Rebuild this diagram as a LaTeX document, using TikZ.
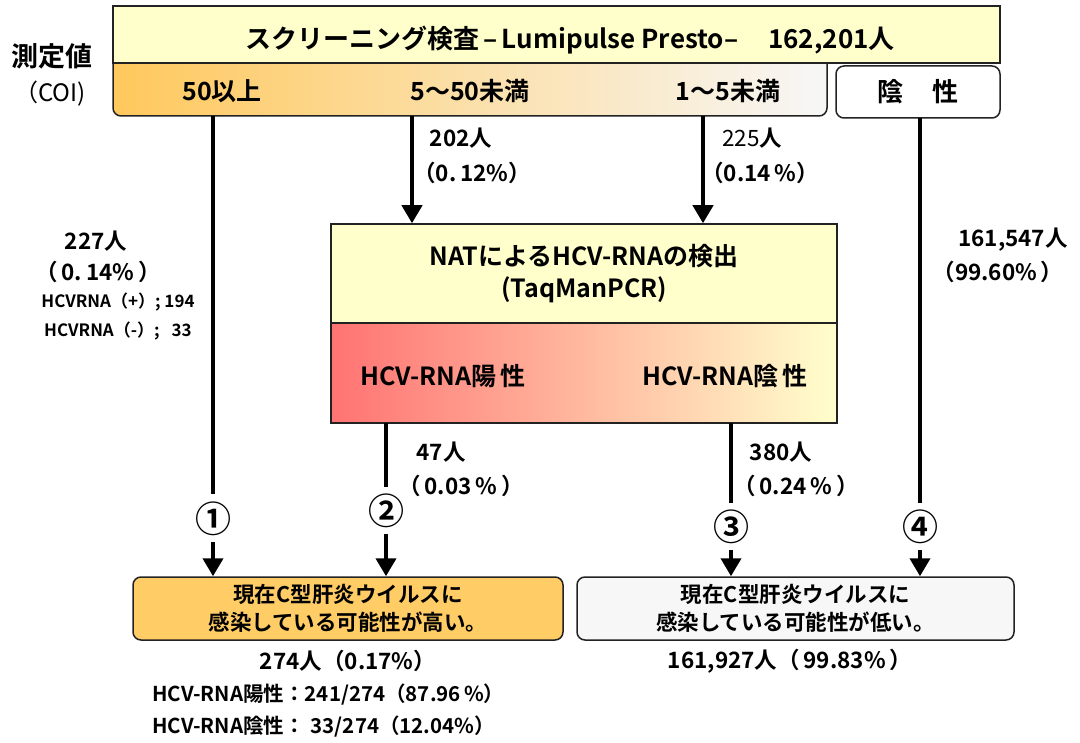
\documentclass[tikz,border=0pt]{standalone}
\usepackage{fontspec}
\setmainfont{Noto Sans CJK JP}[BoldFont={Noto Sans CJK JP Bold}]
\usetikzlibrary{arrows.meta}
\definecolor{ltyel}{HTML}{FFFFCC}
\definecolor{orng}{HTML}{FFC85C}
\definecolor{boxor}{HTML}{FFCC66}
\definecolor{grayw}{HTML}{F7F7F7}
\definecolor{redp}{HTML}{FF7373}
\definecolor{edge}{HTML}{222222}
\tikzset{
  box/.style={draw=edge, line width=1.5pt, inner sep=0pt, align=center},
  rbox/.style={box, rounded corners=8pt},
  lbl/.style={font=\bfseries\fontsize{22.5}{26}\selectfont, inner sep=0pt, align=center},
  small/.style={font=\bfseries\fontsize{17}{20}\selectfont, inner sep=0pt, align=left},
  circ/.style={font=\bfseries\fontsize{36}{38}\selectfont, inner sep=0pt},
  conn/.style={line width=4pt, draw=black},
  arr/.style={line width=4pt, -{Triangle[width=20pt,length=18pt]}},
}
\begin{document}
\begin{tikzpicture}[x=1pt,y=-1pt]
\useasboundingbox (0,0) rectangle (1080,743);
% gradient box (top rounded corners hidden under top box)
\node[rbox, left color=orng, right color=grayw, minimum width=714pt, minimum height=61pt] (grad) at (470,85.5) {};
\node[box, fill=ltyel, minimum width=887pt, minimum height=57pt] (top) at (556.5,34.5) {};
\node[lbl, font=\bfseries\fontsize{26}{30}\selectfont] (title) at (570,40) {スクリーニング検査\,–\,Lumipulse Presto–\hspace{30pt}162,201人};
\node[rbox, fill=white, minimum width=164pt, minimum height=52pt, font=\bfseries\fontsize{26}{30}\selectfont] (neg) at (918,92) {陰\hspace{30pt}性};
\node[lbl, font=\bfseries\fontsize{25}{28}\selectfont] (g1) at (222,91) {50以上};
\node[lbl, font=\bfseries\fontsize{25}{28}\selectfont] (g2) at (470,91) {5〜50未満};
\node[lbl, font=\bfseries\fontsize{25}{28}\selectfont] (g3) at (728,91) {1〜5未満};
\node[lbl, font=\bfseries\fontsize{27}{30}\selectfont] (meas) at (52,56) {測定値};
\node[inner sep=0pt, font=\fontsize{24}{28}\selectfont] (coi) at (50,94) {（COI)};
% NAT boxes
\node[box, fill=ltyel, minimum width=506pt, minimum height=99pt, font=\bfseries\fontsize{25}{32}\selectfont] (nat) at (584,273.5) {NATによるHCV-RNAの検出\\(TaqManPCR)};
\node[box, left color=redp, right color=ltyel, minimum width=506pt, minimum height=100pt] (res) at (584,373) {};
\node[lbl, font=\bfseries\fontsize{25}{28}\selectfont] (rpos) at (443,376) {HCV-RNA陽\,性};
\node[lbl, font=\bfseries\fontsize{25}{28}\selectfont] (rneg) at (725,376) {HCV-RNA陰\,性};
% bottom boxes
\node[rbox, fill=boxor, minimum width=430pt, minimum height=63pt, font=\bfseries\fontsize{21.5}{28}\selectfont] (high) at (348,608.5) {現在C型肝炎ウイルスに\\感染している可能性が高い。};
\node[rbox, fill=grayw, minimum width=437pt, minimum height=63pt, font=\bfseries\fontsize{21.5}{28}\selectfont] (low) at (795.5,608.5) {現在C型肝炎ウイルスに\\感染している可能性が低い。};
% coordinates for connectors
\coordinate (a1) at (213,116);
\coordinate (a2) at (412,116);
\coordinate (a3) at (703,116);
\coordinate (a4) at (920,118);
\coordinate (b2) at (386,423);
\coordinate (b3) at (731,423);
\coordinate (e1) at (213,494);
\coordinate (s1) at (213,542);
\coordinate (e2) at (386,487);
\coordinate (s2) at (386,534);
\coordinate (e3) at (731,503);
\coordinate (s3) at (731,550);
\coordinate (e4) at (920,503);
\coordinate (s4) at (920,550);
% circled numbers
\node[circ] (c1) at (213,519) {①};
\node[circ] (c2) at (386,511) {②};
\node[circ] (c3) at (731,527) {③};
\node[circ] (c4) at (920,527) {④};
% connectors
\draw[conn] (a1) -- (e1);
\draw[arr] (s1) -- (high.north -| s1);
\draw[arr] (a2) -- (nat.north -| a2);
\draw[arr] (a3) -- (nat.north -| a3);
\draw[conn] (a4) -- (e4);
\draw[arr] (s4) -- (low.north -| s4);
\draw[conn] (b2) -- (e2);
\draw[arr] (s2) -- (high.north -| s2);
\draw[conn] (b3) -- (e3);
\draw[arr] (s3) -- (low.north -| s3);
% labels
\node[lbl] (l202) at (461,138) {202人};
\node[lbl] (l202p) at (472,173) {（0.\,12\%）};
\node[lbl] (l225) at (752,138) {\mdseries 225\bfseries 人};
\node[lbl] (l225p) at (760,173) {（0.14\,\%）};
\node[lbl] (l227) at (96,241) {227人};
\node[lbl] (l227p) at (98,272) {（\,0.\,14\%\,）};
\node[small] (hp) at (118,302) {HCVRNA（+）; 194};
\node[small] (hm) at (118,331) {HCVRNA（-）;\hspace{12pt}33};
\node[lbl] (l1615) at (1013,240) {161,547人};
\node[lbl] (l1615p) at (998,272) {（99.60\%\,）};
\node[lbl] (l47) at (441,452) {47人};
\node[lbl] (l47p) at (461,486) {（\,0.03\,\%\,）};
\node[lbl] (l380) at (781,452) {380人};
\node[lbl] (l380p) at (796,486) {（\,0.24\,\%\,）};
\node[lbl] (l274) at (348,661) {274人（0.17\%）};
\node[lbl, font=\bfseries\fontsize{20.5}{24}\selectfont, anchor=west] (t1) at (152,695) {HCV-RNA陽性：241/274（87.96\,\%）};
\node[lbl, font=\bfseries\fontsize{20.5}{24}\selectfont, anchor=west] (t2) at (152,727) {HCV-RNA陰性：\hspace{6pt}33/274（12.04\%）};
\node[lbl] (l1619) at (790,661) {161,927人（\,99.83\%\,）};
\end{tikzpicture}
\end{document}
